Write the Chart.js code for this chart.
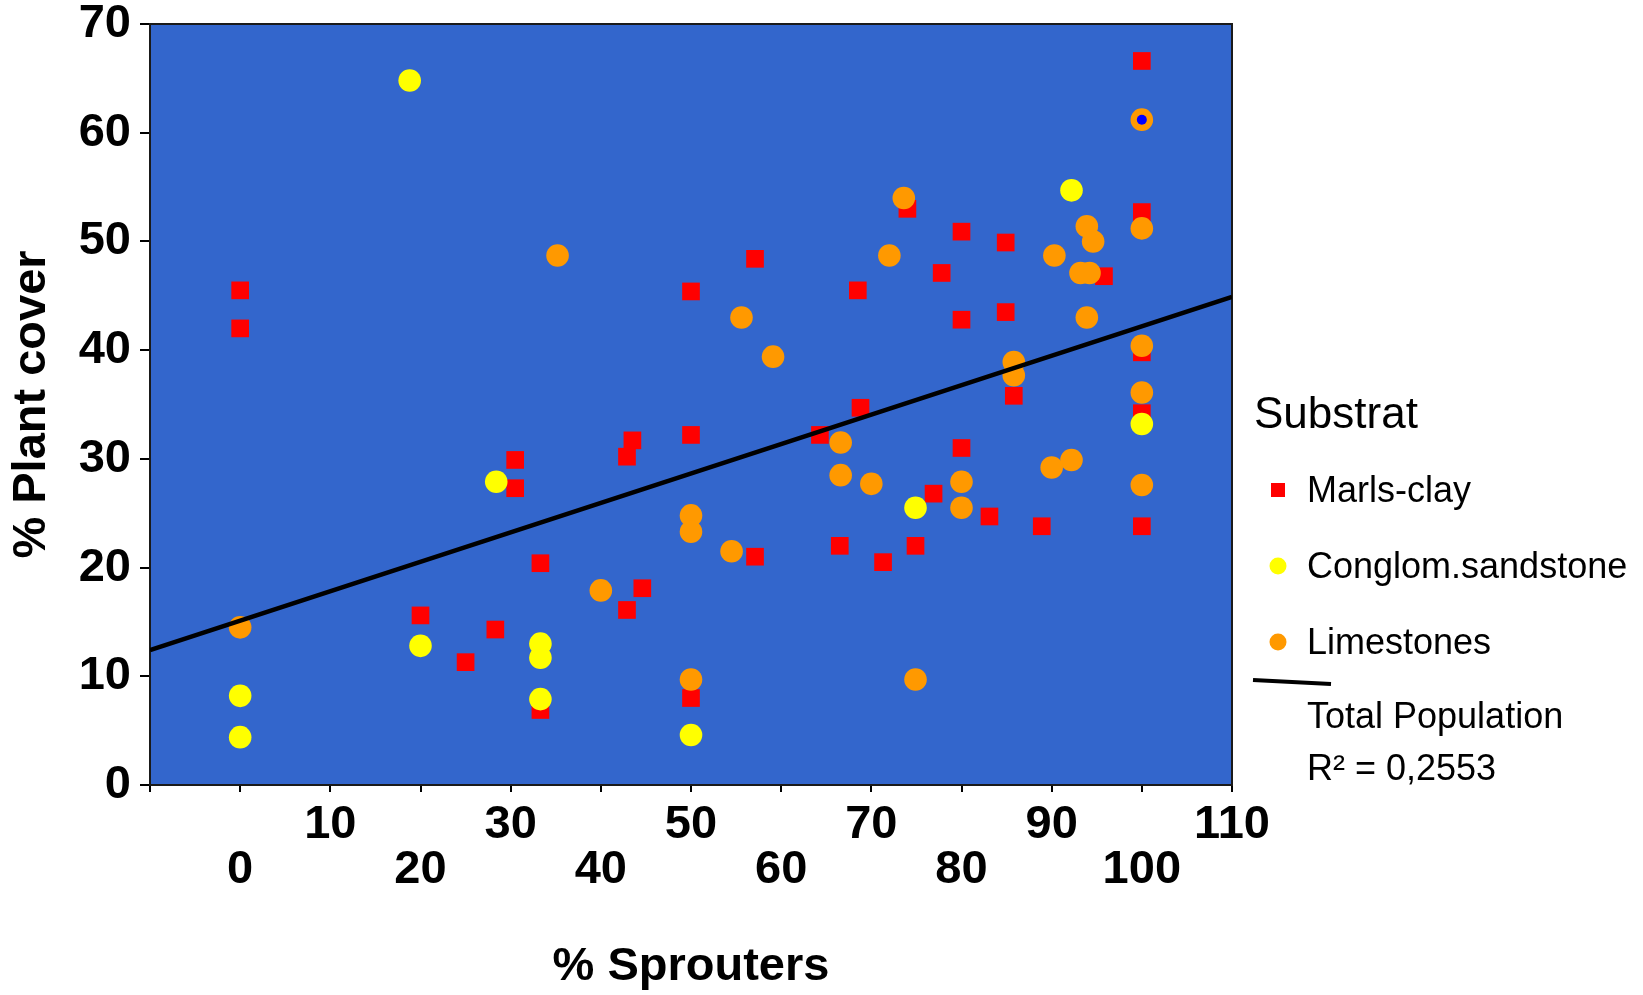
<!DOCTYPE html>
<html>
<head>
<meta charset="utf-8">
<title>% Plant cover vs % Sprouters</title>
<script src="https://cdn.jsdelivr.net/npm/chart.js@4.4.1/dist/chart.umd.min.js"></script>
<style>
  html, body { margin: 0; padding: 0; background: #fff; }
  #wrap { width: 1643px; height: 995px; }
</style>
</head>
<body>
<div id="wrap"><canvas id="chart" width="1643" height="995"></canvas></div>
<script>
// --- data ---
const marlsX = [0, 0, 30.5, 30.5, 33.3, 20, 28.3, 25, 33.3, 50, 57.1, 68.5, 74, 80, 77.8, 80, 84.9, 84.9, 68.8, 43.5, 42.9, 50, 64.3, 80, 76.9, 83.1, 57.1, 66.5, 71.3, 74.9, 44.6, 42.9, 50, 100, 100, 95.8, 100, 85.8, 100, 88.9, 100];
const marlsY = [45.5, 42, 29.9, 27.3, 20.4, 15.6, 14.3, 11.3, 6.9, 45.4, 48.4, 45.5, 53, 50.9, 47.1, 42.8, 49.9, 43.5, 34.7, 31.7, 30.2, 32.2, 32.2, 31.0, 26.8, 24.7, 21.0, 22.0, 20.5, 22.0, 18.1, 16.1, 8.0, 66.6, 52.7, 46.8, 39.8, 35.8, 34.2, 23.8, 23.8];

const sandX = [0, 0, 18.8, 28.4, 20, 33.3, 33.3, 33.3, 50, 74.9, 92.2, 100];
const sandY = [8.2, 4.4, 64.8, 27.9, 12.8, 13.0, 11.7, 7.9, 4.6, 25.5, 54.7, 33.2];

const limeX = [0, 35.2, 55.6, 59.1, 72, 73.6, 66.6, 66.6, 70, 80, 80, 50, 50, 54.5, 40, 50, 74.9, 100, 93.9, 94.6, 90.3, 93.2, 94.2, 93.9, 100, 85.8, 85.8, 100, 90, 92.2, 100, 100];
const limeY = [14.5, 48.7, 43.0, 39.4, 48.7, 54.0, 31.5, 28.5, 27.7, 27.9, 25.5, 24.8, 23.3, 21.5, 17.9, 9.7, 9.7, 61.2, 51.4, 50.0, 48.7, 47.1, 47.1, 43.0, 40.4, 38.9, 37.7, 36.1, 29.2, 29.9, 27.6, 51.2];

// small blue dot sitting inside one limestone point
const dotX = [100];
const dotY = [61.2];

// trend line (Total Population)
const trendX = [-10, 110];
const trendY = [12.4, 44.9];

const seriesNames = ['Marls-clay', 'Conglom.sandstone', 'Limestones'];
const legendTitle = 'Substrat';
const trendText = ['Total Population', 'R\u00B2 = 0,2553'];

// tick labels, staggered in two rows
const xUpperRow = ['10', '30', '50', '70', '90', '110'];
const xLowerRow = ['0', '20', '40', '60', '80', '100'];
const yTickLabels = ['0', '10', '20', '30', '40', '50', '60', '70'];

const FONT = '"Liberation Sans", Arial, sans-serif';
Chart.defaults.font.family = FONT;
Chart.defaults.color = '#000';

function pts(xs, ys) {
    return xs.map((x, i) => ({ x: x, y: ys[i] }));
}

// blue plot area + frame
const plotFrame = {
    id: 'plotFrame',
    beforeDatasetsDraw(chart) {
        const { ctx, chartArea: a } = chart;
        ctx.save();
        ctx.fillStyle = '#3366CC';
        ctx.fillRect(a.left, a.top, a.width, a.height);
        ctx.strokeStyle = '#1a1a1a';
        ctx.lineWidth = 2;
        ctx.strokeRect(a.left, a.top, a.width, a.height);
        ctx.restore();
    }
};

// legend on the right, Excel style
const substratLegend = {
    id: 'substratLegend',
    afterDraw(chart) {
        const ctx = chart.ctx;
        const ds = chart.data.datasets;
        const left = chart.chartArea.right + 22;
        const markX = left + 24;
        const textX = left + 53;
        ctx.save();
        ctx.fillStyle = '#000';
        ctx.textAlign = 'left';
        ctx.textBaseline = 'alphabetic';
        ctx.font = '44px ' + FONT;
        ctx.fillText(legendTitle, left, 428);

        ctx.font = '36px ' + FONT;
        seriesNames.forEach((name, i) => {
            const d = ds.find(s => s.label === name);
            const cy = 490 + i * 76;
            ctx.fillStyle = d.backgroundColor;
            if (d.pointStyle === 'rect') {
                ctx.fillRect(markX - 7, cy - 7, 14, 14);
            } else {
                ctx.beginPath();
                ctx.arc(markX, cy, 8.5, 0, Math.PI * 2);
                ctx.fill();
            }
            ctx.fillStyle = '#000';
            ctx.fillText(name, textX, cy + 12);
        });

        ctx.strokeStyle = '#000';
        ctx.lineWidth = 4;
        ctx.beginPath();
        ctx.moveTo(left - 1, 680);
        ctx.lineTo(left + 77, 684);
        ctx.stroke();
        ctx.fillText(trendText[0], textX, 728);
        ctx.fillText(trendText[1], textX, 780);
        ctx.restore();
    }
};

new Chart(document.getElementById('chart'), {
    type: 'scatter',
    data: {
        datasets: [
            {
                type: 'line', label: 'Total Population', data: pts(trendX, trendY),
                borderColor: '#000', borderWidth: 4.5, pointRadius: 0, fill: false, order: 0
            },
            {
                label: 'dot', data: pts(dotX, dotY), backgroundColor: '#0000FF',
                pointStyle: 'circle', pointRadius: 5, pointBorderWidth: 0, order: 1
            },
            {
                label: 'Limestones', data: pts(limeX, limeY), backgroundColor: '#FF9900',
                pointStyle: 'circle', pointRadius: 11.3, pointBorderWidth: 0, order: 2
            },
            {
                label: 'Conglom.sandstone', data: pts(sandX, sandY), backgroundColor: '#FFFF00',
                pointStyle: 'circle', pointRadius: 11.3, pointBorderWidth: 0, order: 3
            },
            {
                label: 'Marls-clay', data: pts(marlsX, marlsY), backgroundColor: '#FF0000',
                pointStyle: 'rect', pointRadius: 12.5, pointBorderWidth: 0, order: 4
            }
        ]
    },
    options: {
        responsive: false,
        animation: false,
        events: [],
        layout: { padding: { left: 0, right: 411, top: 24, bottom: 0 } },
        plugins: { legend: { display: false }, tooltip: { enabled: false } },
        scales: {
            x: {
                type: 'linear', min: -10, max: 110,
                border: { display: false },
                grid: { drawOnChartArea: false, drawTicks: true, tickLength: 7, color: '#000', lineWidth: 2 },
                ticks: {
                    stepSize: 10, autoSkip: false, maxRotation: 0, padding: 11,
                    font: { size: 47, weight: 'bold', lineHeight: '45px' },
                    callback: v => {
                        const s = String(v);
                        if (xUpperRow.includes(s)) return [s, ''];
                        if (xLowerRow.includes(s)) return ['', s];
                        return '';
                    }
                },
                title: { display: true, text: '% Sprouters', font: { size: 47, weight: 'bold' }, padding: { bottom: 0 } },
                afterFit: s => { s.height = 210; }
            },
            y: {
                type: 'linear', min: 0, max: 70,
                border: { display: false },
                grid: { drawOnChartArea: false, drawTicks: true, tickLength: 10, color: '#000', lineWidth: 2 },
                ticks: {
                    stepSize: 10, padding: 9,
                    font: { size: 47, weight: 'bold', lineHeight: '20px' },
                    callback: v => yTickLabels.includes(String(v)) ? String(v) : ''
                },
                title: { display: true, text: '% Plant cover', font: { size: 47, weight: 'bold' }, padding: { top: 4 } },
                afterFit: s => { s.width = 150; }
            }
        }
    },
    plugins: [plotFrame, substratLegend]
});
</script>
</body>
</html>
